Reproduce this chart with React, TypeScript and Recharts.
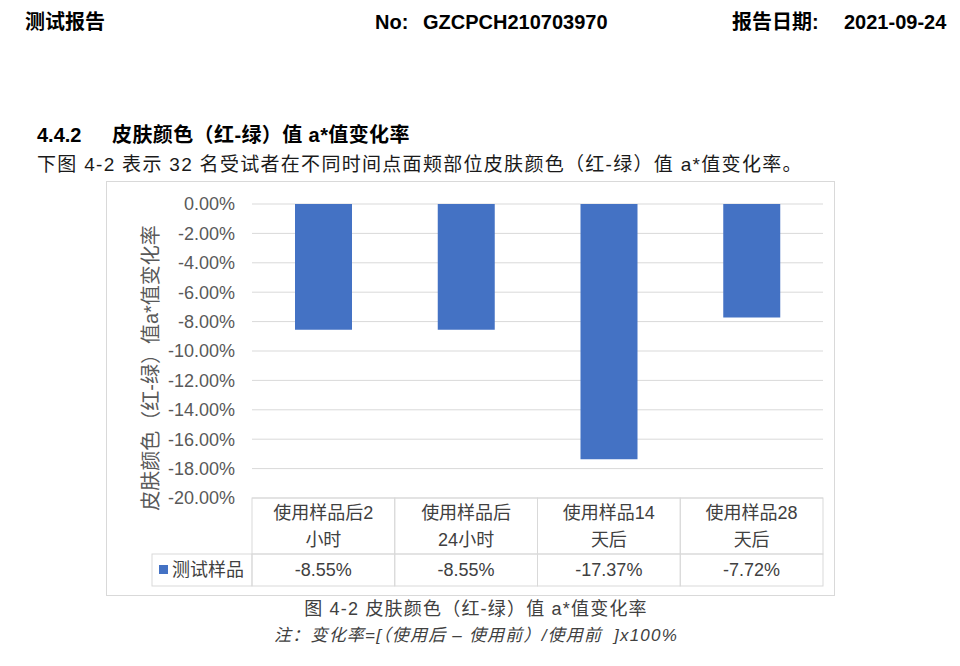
import { Bar, BarChart, CartesianGrid, XAxis, YAxis } from "recharts";

const categories = ["使用样品后2小时", "使用样品后24小时", "使用样品14天后", "使用样品28天后"];
const categoryLines = [
	["使用样品后2", "小时"],
	["使用样品后", "24小时"],
	["使用样品14", "天后"],
	["使用样品28", "天后"],
];
const sampleValues = [-8.55, -8.55, -17.37, -7.72];
const yTicks = [0, -2, -4, -6, -8, -10, -12, -14, -16, -18, -20];
const seriesName = "测试样品";
const yTitle = "皮肤颜色（红-绿）值a*值变化率";

const chartData = categories.map((label, i) => ({ label, value: sampleValues[i] }));

const CHART_W = 729;
const CHART_H = 415;
const MARGIN = { top: 23, right: 12, bottom: 10, left: 66 };
const Y_AXIS_W = 80;
const COL_W = (CHART_W - MARGIN.left - MARGIN.right - Y_AXIS_W) / categories.length;
const HEAD_H = 56;
const ROW_H = 32;
const LEGEND_W = 100;

const FONT = '"Liberation Sans", "Noto Sans CJK SC", sans-serif';
const GRID = "#d9d9d9";
const TEXT = "#404040";
const BLUE = "#4472C4";

const fmtPct = (v: number) => `${v.toFixed(2)}%`;

function TableTick(props: any) {
	const { x, y, index } = props;
	const left = x - COL_W / 2;
	const lines = categoryLines[index] ?? [];
	return (
		<g>
			<rect x={left} y={y} width={COL_W} height={HEAD_H} fill="none" stroke={GRID} />
			<rect x={left} y={y + HEAD_H} width={COL_W} height={ROW_H} fill="none" stroke={GRID} />
			{lines.map((line, i) => (
				<text
					key={i}
					x={x}
					y={y + 15 + i * 27}
					textAnchor="middle"
					dominantBaseline="central"
					fontSize={18}
					fill={TEXT}
					fontFamily={FONT}
				>
					{line}
				</text>
			))}
			<text
				x={x}
				y={y + HEAD_H + 16}
				textAnchor="middle"
				dominantBaseline="central"
				fontSize={18}
				fill={TEXT}
				fontFamily={FONT}
			>
				{fmtPct(sampleValues[index])}
			</text>
			{index === 0 ? (
				<g>
					<rect x={left - LEGEND_W} y={y + HEAD_H} width={LEGEND_W} height={ROW_H} fill="none" stroke={GRID} />
					<rect x={left - LEGEND_W + 7} y={y + HEAD_H + 11} width={9} height={9} fill={BLUE} />
					<text
						x={left - LEGEND_W + 20}
						y={y + HEAD_H + 16}
						dominantBaseline="central"
						fontSize={18}
						fill={TEXT}
						fontFamily={FONT}
					>
						{seriesName}
					</text>
				</g>
			) : null}
		</g>
	);
}

function Txt({ left, top, size, bold, italic, color, children, center, spacing }: any) {
	return (
		<div
			style={{
				position: "absolute",
				left,
				top,
				fontSize: size,
				fontWeight: bold ? 700 : 400,
				fontStyle: italic ? "italic" : "normal",
				color: color ?? "#000",
				lineHeight: `${size + 6}px`,
				letterSpacing: spacing ?? 0,
				whiteSpace: "nowrap",
				transform: center ? "translateX(-50%)" : undefined,
			}}
		>
			{children}
		</div>
	);
}

export default function App() {
	return (
		<div
			style={{
				position: "absolute",
				left: 0,
				top: 0,
				width: 960,
				height: 666,
				background: "#fff",
				fontFamily: FONT,
			}}
		>
			<Txt left={25} top={9} size={20} bold>测试报告</Txt>
			<Txt left={375} top={9} size={20} bold>No:</Txt>
			<Txt left={423} top={9} size={20} bold>GZCPCH210703970</Txt>
			<Txt left={732} top={9} size={20} bold>报告日期:</Txt>
			<Txt left={844} top={9} size={20} bold>2021-09-24</Txt>

			<Txt left={37} top={122} size={20} bold>4.4.2</Txt>
			<Txt left={112} top={122} size={20} bold spacing={0.4}>皮肤颜色（红-绿）值 a*值变化率</Txt>
			<Txt left={37} top={152} size={19} color="#1a1a1a" spacing={1.3}>
				下图 4-2 表示 32 名受试者在不同时间点面颊部位皮肤颜色（红-绿）值 a*值变化率。
			</Txt>

			<div
				style={{
					position: "absolute",
					left: 106,
					top: 181,
					width: CHART_W,
					height: CHART_H,
					boxSizing: "border-box",
					border: `1px solid ${GRID}`,
				}}
			>
				<BarChart
					width={CHART_W}
					height={CHART_H}
					data={chartData}
					margin={MARGIN}
					style={{ position: "absolute", left: -1, top: -1 }}
				>
					<CartesianGrid vertical={false} stroke={GRID} />
					<XAxis
						dataKey="label"
						axisLine={false}
						tickLine={false}
						tickSize={0}
						tickMargin={0}
						height={88}
						interval={0}
						tick={(p: any) => <TableTick {...p} />}
					/>
					<YAxis
						width={Y_AXIS_W}
						domain={[-20, 0]}
						ticks={yTicks}
						axisLine={false}
						tickLine={false}
						tickSize={0}
						tickMargin={17}
						tickFormatter={fmtPct}
						tick={{ fontSize: 18, fill: "#595959", fontFamily: FONT }}
						label={{
							content: () => (
								<text
									x={45}
									y={187}
									transform="rotate(-90, 45, 187)"
									textAnchor="middle"
									dominantBaseline="central"
									fontSize={20}
									fill="#595959"
									fontFamily={FONT}
								>
									{yTitle}
								</text>
							),
						}}
					/>
					<Bar dataKey="value" fill={BLUE} barSize={57} isAnimationActive={false} />
				</BarChart>
			</div>

			<Txt left={476} top={597} size={18} color="#404040" spacing={1.2} center>
				图 4-2 皮肤颜色（红-绿）值 a*值变化率
			</Txt>
			<Txt left={476} top={624} size={17} italic color="#404040" spacing={1.2} center>
				注：变化率=[（使用后 – 使用前）/使用前&nbsp; ]x100%
			</Txt>
		</div>
	);
}
